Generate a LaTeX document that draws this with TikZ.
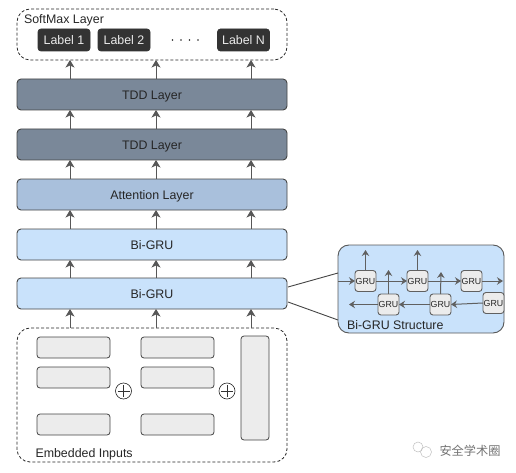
\documentclass[tikz,border=0pt]{standalone}
\usepackage{fontspec}
\setmainfont{Liberation Sans}
\newfontfamily\cjkwm{Noto Sans CJK SC}
\usetikzlibrary{arrows.meta,shapes.misc}
\definecolor{tddc}{HTML}{7A8899}
\definecolor{attc}{HTML}{A9C0DC}
\definecolor{gruc}{HTML}{C9E2FB}
\definecolor{grayc}{HTML}{ECECEC}
\definecolor{edgec}{HTML}{444444}
\definecolor{labc}{HTML}{333333}
\tikzset{
  layerbox/.style={draw=edgec,line width=0.9pt,rounded corners=4pt,minimum width=270pt,minimum height=31pt,inner sep=0pt,outer sep=0pt,font=\fontsize{12.4}{14}\selectfont,text=black!85,text height=10.4pt,text depth=0pt},
  dashbox/.style={draw=black!85,line width=0.8pt,dash pattern=on 3pt off 2pt,rounded corners=13pt,inner sep=0pt,outer sep=0pt,minimum width=270pt},
  labelbox/.style={draw=black!80,line width=0.7pt,fill=labc,rounded corners=3pt,minimum width=52pt,minimum height=22pt,inner sep=0pt,outer sep=0pt,text=white!92!black,font=\fontsize{12.4}{14}\selectfont,text height=10pt,text depth=0pt},
  embbox/.style={draw=edgec,line width=0.8pt,fill=grayc,rounded corners=3pt,minimum width=73pt,minimum height=21pt,inner sep=0pt,outer sep=0pt},
  grubox/.style={draw=edgec!85,line width=0.9pt,fill=grayc,rounded corners=3pt,minimum width=21pt,minimum height=21pt,inner sep=0pt,outer sep=0pt,font=\fontsize{8.8}{10}\selectfont,text=black!85},
  plusnode/.style={circle,draw=black!85,line width=0.6pt,minimum size=16pt,inner sep=0pt,outer sep=0pt},
  uparrow/.style={draw=edgec!90,line width=1pt,-{Stealth[length=7.5pt,width=9pt,inset=2pt]}},
  innerarrow/.style={draw=edgec!85,line width=1pt,-{Stealth[length=6pt,width=7.5pt,inset=2pt]}},
  freetext/.style={inner sep=0pt,outer sep=0pt,anchor=west,font=\fontsize{12.4}{14}\selectfont,text=black!85},
}
\begin{document}
\begin{tikzpicture}[x=1pt,y=-1pt]
\useasboundingbox (0,0) rectangle (516,473);
% positions of the three arrow columns
\coordinate (c1) at (70,0);
\coordinate (c2) at (156,0);
\coordinate (c3) at (251,0);
% softmax
\node[dashbox,minimum height=51pt] (soft) at (152,34.5) {};
\node[freetext] (softt) at (24,20.5) {SoftMax Layer};
\node[labelbox] (l1) at (64,40) {Label 1};
\node[labelbox] (l2) at (124,40) {Label 2};
\node[labelbox] (l3) at (243.5,40) {Label N};
\foreach \dx [count=\i] in {172.5,181,189.5,198}{
  \node[circle,fill=black!85,minimum size=1.6pt,inner sep=0pt] (dot\i) at (\dx,40) {};
}
% layers
\node[layerbox,fill=tddc] (t1) at (152,94.5) {TDD Layer};
\node[layerbox,fill=tddc] (t2) at (152,144.5) {TDD Layer};
\node[layerbox,fill=attc] (att) at (152,194.5) {Attention Layer};
\node[layerbox,fill=gruc] (g1) at (152,244.5) {Bi-GRU};
\node[layerbox,fill=gruc] (g2) at (152,293.5) {Bi-GRU};
% embedded
\node[dashbox,minimum height=134pt] (emb) at (152,395) {};
\node[embbox] (e11) at (73.5,347.5) {};
\node[embbox] (e12) at (73.5,377.5) {};
\node[embbox] (e13) at (73.5,424.5) {};
\node[embbox] (e21) at (177.5,347.5) {};
\node[embbox] (e22) at (177.5,377.5) {};
\node[embbox] (e23) at (177.5,424.5) {};
\node[embbox,minimum width=28pt,minimum height=104pt] (e3) at (255,388) {};
\node[plusnode] (p1) at (123.5,391) {};
\draw[line width=0.4pt,black!80] ([xshift=-6pt]p1.center) -- ([xshift=6pt]p1.center) ([yshift=-6pt]p1.center) -- ([yshift=6pt]p1.center);
\node[plusnode] (p2) at (227,391) {};
\draw[line width=0.4pt,black!80] ([xshift=-6pt]p2.center) -- ([xshift=6pt]p2.center) ([yshift=-6pt]p2.center) -- ([yshift=6pt]p2.center);
\node[freetext] (embt) at (35.5,454) {Embedded Inputs};
% column arrows
\foreach \c in {c1,c2,c3}{
  \draw[uparrow] (emb.north -| \c) -- (g2.south -| \c);
  \draw[uparrow] (g2.north -| \c) -- (g1.south -| \c);
  \draw[uparrow] (g1.north -| \c) -- (att.south -| \c);
  \draw[uparrow] (att.north -| \c) -- (t2.south -| \c);
  \draw[uparrow] (t2.north -| \c) -- (t1.south -| \c);
  \draw[uparrow] (t1.north -| \c) -- (soft.south -| \c);
}
% structure panel
\node[draw=edgec!90,line width=0.9pt,fill=gruc,rounded corners=11pt,minimum width=166pt,minimum height=88pt,inner sep=0pt,outer sep=0pt] (st) at (421,289) {};
\coordinate (z1) at (288,287);
\coordinate (z2) at (288,302);
\coordinate (sa) at (338,273);
\coordinate (sb) at (338,320);
\draw[line width=0.9pt,edgec] (z1) -- (sa);
\draw[line width=0.9pt,edgec] (z2) -- (sb);
\node[grubox] (a1) at (365.5,281) {GRU};
\node[grubox] (a2) at (417.5,281) {GRU};
\node[grubox] (a3) at (471.5,281) {GRU};
\node[grubox] (b1) at (388.5,304.5) {GRU};
\node[grubox] (b2) at (440.5,304.5) {GRU};
\node[grubox] (b3) at (493.5,303) {GRU};
\coordinate (ain) at (338,281);
\coordinate (aout) at (503,281);
\coordinate (bout) at (349,304.5);
\coordinate (u1) at (365.5,250);
\coordinate (u2) at (417.5,250);
\coordinate (u3) at (388.5,270);
\coordinate (u4) at (441,272);
\draw[innerarrow] (ain) -- (a1);
\draw[innerarrow] (a1) -- (a2);
\draw[innerarrow] (a2) -- (a3);
\draw[innerarrow] (a3) -- (aout);
\draw[innerarrow] (a1) -- (u1);
\draw[innerarrow] (a2) -- (u2);
\draw[innerarrow] (b1.north) -- (u3);
\draw[innerarrow] (b2.north) -- (u4);
\draw[innerarrow] (b3.west) -- (b2.east);
\draw[innerarrow] (b2) -- (b1);
\draw[innerarrow] (b1) -- (bout);
\node[freetext] (stt) at (347,325) {Bi-GRU Structure};
% watermark
\node[inner sep=0pt,font=\cjkwm\fontsize{12.2}{14}\selectfont,text=black!55] (wm) at (470,450.5) {安全学术圈};
\node[circle,draw=black!25,line width=0.5pt,minimum size=10pt,inner sep=0pt] (w1) at (418,447) {};
\node[circle,draw=black!25,line width=0.5pt,minimum size=11pt,inner sep=0pt] (w2) at (426,452) {};
\end{tikzpicture}
\end{document}
